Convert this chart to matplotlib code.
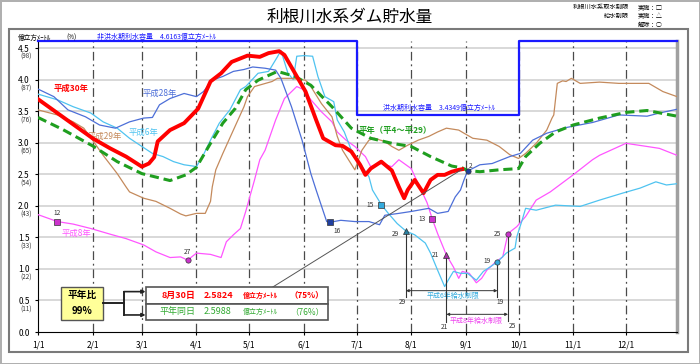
import numpy as np
import matplotlib
matplotlib.use('Agg')
import matplotlib.pyplot as plt
from matplotlib.patches import Rectangle

plt.rcParams['font.family'] = ['Noto Sans CJK JP', 'DejaVu Sans']

# x axis: day of year (1/1 = 0)
month_labels = ['1/1', '2/1', '3/1', '4/1', '5/1', '6/1', '7/1', '8/1', '9/1', '10/1', '11/1', '12/1']
month_days = [0, 31, 59, 90, 120, 151, 181, 212, 243, 273, 304, 334]

ytick_vals = [0.0, 0.5, 1.0, 1.5, 2.0, 2.5, 3.0, 3.5, 4.0, 4.5]
ytick_pct = ['', '(11)', '(22)', '(33)', '(43)', '(54)', '(65)', '(76)', '(87)', '(98)']

# 利水容量 (億m3)
cap_days = [0, 181, 181, 273, 273, 363]
cap_vals = [4.6163, 4.6163, 3.4349, 3.4349, 4.6163, 4.6163]

# 平成30年
h30_days = [0, 14, 24, 31, 41, 50, 59, 63, 66, 68, 75, 83, 91, 98, 104, 110, 119, 126, 131,
            137, 140, 146, 152, 158, 162, 169, 173, 178, 183, 186, 189, 195, 201, 205, 208,
            210, 214, 219, 223, 227, 231, 235, 239, 241]
h30_vals = [3.69, 3.41, 3.21, 3.07, 2.91, 2.78, 2.62, 2.67, 2.77, 3.02, 3.20, 3.31, 3.54, 3.97,
            4.10, 4.28, 4.38, 4.36, 4.42, 4.45, 4.39, 4.10, 3.81, 3.36, 3.07, 2.96, 2.95, 2.86,
            2.65, 2.49, 2.59, 2.70, 2.56, 2.30, 2.12, 2.25, 2.41, 2.20, 2.41, 2.49, 2.49, 2.54,
            2.57, 2.58]

# 平年 (平4～平29)
avg_days = [0, 14, 31, 45, 59, 75, 84, 90, 98, 105, 112, 118, 125, 136, 146, 155, 167, 178,
            189, 201, 212, 223, 235, 241, 244, 251, 262, 273, 277, 285, 294, 304, 319, 334,
            346, 363]
avg_vals = [3.40, 3.21, 2.95, 2.70, 2.51, 2.40, 2.49, 2.61, 2.99, 3.31, 3.54, 3.84, 3.99, 4.13,
            4.05, 3.91, 3.57, 3.23, 3.07, 2.99, 2.94, 2.78, 2.63, 2.60, 2.56, 2.54, 2.57, 2.59,
            2.78, 2.99, 3.17, 3.28, 3.39, 3.48, 3.51, 3.42]

# 平成28年
h28_days = [0, 9, 17, 27, 35, 44, 52, 60, 65, 69, 75, 83, 90, 94, 99, 105, 111, 117, 122,
            129, 135, 138, 144, 150, 155, 158, 164, 166, 172, 180, 188, 194, 197, 205, 212,
            222, 227, 233, 237, 240, 242, 244, 251, 258, 268, 274, 281, 289, 300, 315, 330,
            346, 353, 363]
h28_vals = [3.85, 3.73, 3.52, 3.41, 3.28, 3.23, 3.33, 3.39, 3.40, 3.60, 3.70, 3.78, 3.73, 3.81,
            3.99, 4.05, 4.13, 4.16, 4.20, 4.18, 4.15, 4.02, 3.57, 3.04, 2.51, 2.25, 1.75, 1.74,
            1.77, 1.75, 1.75, 1.70, 1.85, 1.88, 1.91, 1.96, 1.88, 1.91, 2.14, 2.25, 2.41, 2.55,
            2.65, 2.67, 2.78, 2.83, 3.04, 3.15, 3.24, 3.32, 3.44, 3.42, 3.47, 3.53]

# 平成29年
h29_days = [0, 11, 20, 26, 31, 37, 45, 50, 52, 60, 67, 75, 81, 84, 90, 95, 98, 99, 101, 105,
            111, 117, 119, 123, 133, 136, 144, 152, 155, 161, 167, 170, 173, 180, 184, 188,
            191, 197, 201, 205, 210, 216, 222, 227, 232, 239, 242, 247, 255, 262, 268, 273,
            277, 283, 289, 292, 293, 295, 298, 300, 303, 308, 319, 330, 347, 355, 363]
h29_vals = [3.52, 3.44, 3.33, 3.23, 3.04, 2.80, 2.51, 2.30, 2.22, 2.12, 2.07, 1.96, 1.87, 1.84,
            1.88, 1.88, 2.07, 2.30, 2.57, 2.83, 3.20, 3.57, 3.73, 3.89, 3.97, 4.02, 4.02, 3.99,
            3.89, 3.62, 3.41, 3.10, 2.88, 2.57, 2.88, 3.04, 3.07, 3.02, 2.94, 2.88, 2.96, 3.04,
            3.10, 3.17, 3.23, 3.20, 3.15, 3.07, 3.04, 2.94, 2.81, 2.75, 2.83, 2.99, 3.20, 3.39,
            3.44, 3.94, 3.98, 3.97, 4.02, 3.94, 3.96, 3.94, 3.94, 3.81, 3.73]

# 平成6年
h6_days = [0, 11, 20, 30, 37, 45, 52, 59, 65, 71, 77, 83, 88, 90, 94, 98, 103, 109, 115, 118,
           125, 131, 136, 138, 142, 145, 147, 151, 156, 159, 163, 168, 170, 174, 178, 183, 188,
           190, 195, 199, 204, 209, 214, 220, 223, 227, 231, 233, 236, 240, 244, 249, 253, 261,
           266, 271, 272, 275, 277, 283, 294, 308, 319, 332, 342, 351, 357, 363]
h6_vals = [3.77, 3.68, 3.57, 3.47, 3.33, 3.23, 3.07, 2.94, 2.83, 2.78, 2.70, 2.65, 2.63, 2.62,
           2.81, 3.04, 3.31, 3.52, 3.84, 3.89, 4.10, 4.13, 4.36, 4.46, 4.10, 4.00, 4.37, 4.38,
           4.37, 4.05, 3.73, 3.65, 3.36, 3.17, 2.88, 2.67, 2.46, 2.25, 2.02, 1.88, 1.72, 1.60,
           1.54, 1.41, 1.25, 0.98, 0.72, 0.82, 0.96, 0.93, 0.93, 0.82, 0.96, 1.11, 1.25, 1.33,
           1.51, 1.77, 1.96, 1.93, 2.01, 1.99, 2.09, 2.20, 2.28, 2.38, 2.33, 2.35]

# 平成8年
h8_days = [0, 11, 20, 30, 41, 50, 60, 67, 75, 81, 85, 90, 98, 104, 107, 111, 115, 118, 123,
           126, 129, 135, 140, 147, 151, 155, 161, 167, 170, 175, 180, 186, 189, 195, 201, 205,
           208, 212, 216, 221, 224, 227, 232, 236, 239, 241, 245, 249, 252, 255, 260, 264, 267,
           272, 277, 283, 291, 304, 315, 319, 334, 346, 353, 363]
h8_vals = [1.86, 1.75, 1.71, 1.64, 1.55, 1.48, 1.38, 1.27, 1.18, 1.19, 1.14, 1.25, 1.23, 1.18,
           1.43, 1.54, 1.64, 1.91, 2.41, 2.73, 2.88, 3.36, 3.70, 3.89, 3.84, 3.68, 3.49, 3.33,
           3.17, 3.04, 2.94, 2.78, 2.62, 2.67, 2.62, 2.73, 2.67, 2.59, 2.35, 2.05, 1.79, 1.56,
           1.22, 1.03, 0.85, 0.96, 0.93, 0.78, 0.85, 0.98, 1.11, 1.19, 1.56, 1.67, 1.83, 2.09,
           2.22, 2.49, 2.73, 2.80, 2.99, 2.94, 2.91, 2.80]

C_H30 = '#ff0000'
C_AVG = '#1f9e1f'
C_H28 = '#4d6fd8'
C_H29 = '#c48a5c'
C_H6 = '#4fc3f0'
C_H8 = '#ff55ff'

fig = plt.figure(figsize=(7, 3.64), dpi=100)
fig.patch.set_edgecolor('#b0b0b0')
fig.patch.set_linewidth(2)
fig.add_artist(Rectangle((9 / 700, 1 - 352 / 364), 679 / 700, 323 / 364,
                         transform=fig.transFigure, fill=False, ec='#7a7a7a', lw=1.5))

ax = fig.add_axes([38 / 700, 1 - 332 / 364, 639 / 700, 291.3 / 364])
ax.set_xlim(0, 363)
ax.set_ylim(0, 4.6163)

for v in ytick_vals[1:]:
    ax.axhline(v, color='#d6d6d6', lw=1.3, zorder=0)
for d in month_days[1:]:
    ax.axvline(d, color='#4a4a4a', lw=0.9, dashes=(7, 3, 1.5, 3), zorder=1)

ax.spines['top'].set_visible(False)
ax.spines['right'].set_color('#a0a0a0')
ax.spines['right'].set_linewidth(2.5)
ax.spines['left'].set_linewidth(0.8)
ax.spines['bottom'].set_linewidth(0.8)

ax.set_xticks(month_days)
ax.set_xticklabels(month_labels, fontsize=6)
ax.set_yticks(ytick_vals)
ax.set_yticklabels([f'{v:.1f}' for v in ytick_vals], fontsize=6)
ax.tick_params(axis='both', length=2, pad=4)
for v, p in zip(ytick_vals, ytick_pct):
    if p:
        ax.annotate(p, (0, v), xycoords=('axes fraction', 'data'), xytext=(-4.5, -6.5),
                    textcoords='offset points', ha='right', va='center', fontsize=4.5,
                    color='#333333')

# capacity line
ax.plot(cap_days, cap_vals, color='#1a1aff', lw=1.6, clip_on=False, zorder=3)
ax.text(228, 3.55, '洪水期利水容量　3.4349億立方ﾒｰﾄﾙ', color='#1a1aff', fontsize=5,
        ha='center', va='center')

# series
ax.plot(h8_days, h8_vals, color=C_H8, lw=0.9, zorder=4)
ax.plot(h6_days, h6_vals, color=C_H6, lw=0.9, zorder=4)
ax.plot(h29_days, h29_vals, color=C_H29, lw=0.9, zorder=4)
ax.plot(h28_days, h28_vals, color=C_H28, lw=0.9, zorder=4)
ax.plot(avg_days, avg_vals, color=C_AVG, lw=2.2, dashes=(3, 1.6), zorder=5)
ax.plot(h30_days, h30_vals, color=C_H30, lw=2.8, zorder=6, solid_joinstyle='round')

# series labels
ax.text(19, 3.86, '平成30年', color=C_H30, fontsize=6, fontweight='bold', ha='center', va='center')
ax.text(69, 3.78, '平成28年', color=C_H28, fontsize=6, ha='center', va='center')
ax.text(38, 3.10, '平成29年', color=C_H29, fontsize=6, ha='center', va='center')
ax.text(60, 3.16, '平成6年', color=C_H6, fontsize=6, ha='center', va='center')
ax.text(22, 1.56, '平成8年', color=C_H8, fontsize=6, ha='center', va='center')
ax.text(203, 3.19, '平年（平4～平29）', color=C_AVG, fontsize=6, fontweight='bold',
        ha='center', va='center')

# restriction markers: (series, day, marker, face, label offset)
events = [
    (h8_days, h8_vals, 11, 's', '#cc33cc', (0, 6), 'center'),
    (h8_days, h8_vals, 85, 'o', '#cc33cc', (0, 6), 'center'),
    (h28_days, h28_vals, 166, 's', '#1f3fa0', (2, -6), 'left'),
    (h6_days, h6_vals, 195, 's', '#33aadd', (-5, 0), 'right'),
    (h8_days, h8_vals, 224, 's', '#cc33cc', (-5, 0), 'right'),
    (h6_days, h6_vals, 209, '^', '#2a7fa0', (-5, -2), 'right'),
    (h8_days, h8_vals, 232, '^', '#aa33aa', (-5, 0), 'right'),
    (h6_days, h6_vals, 261, 'o', '#33aadd', (-5, 1), 'right'),
    (h8_days, h8_vals, 267, 'o', '#cc33cc', (-5, 0), 'right'),
    (h28_days, h28_vals, 244, 'o', '#1f3fa0', (1, 4), 'left'),
]
event_labels = ['12', '27', '16', '15', '13', '29', '21', '19', '25', '2']
for (dd, vv, day, mk, fc, off, ha), lab in zip(events, event_labels):
    y = np.interp(day, dd, vv)
    ax.plot(day, y, marker=mk, ms=3.8, mfc=fc, mec='#333333', mew=0.5, zorder=8)
    ax.annotate(lab, (day, y), xytext=off, textcoords='offset points', ha=ha,
                va='center', fontsize=4.8, color='#333333', zorder=8)

# 給水制限 spans
def span(d0, d1, y0, y1, ylev, lab0, lab1, lo0, lo1, txt, tx, ty, color):
    ax.plot([d0, d0], [y0, lo0[1] + 0.08], color='#333333', lw=0.8, zorder=7)
    ax.plot([d1, d1], [y1, lo1[1] + 0.08], color='#333333', lw=0.8, zorder=7)
    ax.annotate('', xy=(d0, ylev), xytext=(d1, ylev),
                arrowprops=dict(arrowstyle='<|-|>', color='#333333', lw=0.7,
                                mutation_scale=4, shrinkA=0, shrinkB=0), zorder=7)
    ax.text(lo0[0], lo0[1], lab0, fontsize=4.8, color='#333333', ha='center', va='center')
    ax.text(lo1[0], lo1[1], lab1, fontsize=4.8, color='#333333', ha='center', va='center')
    ax.text(tx, ty, txt, fontsize=5, color=color, ha='center', va='center')

span(209, 261, np.interp(209, h6_days, h6_vals), np.interp(261, h6_days, h6_vals), 0.655,
     '29', '19', (207, 0.48), (262.5, 0.48), '平成6年給水制限', 236, 0.575, '#33aadd')
span(232, 267, np.interp(232, h8_days, h8_vals), np.interp(267, h8_days, h8_vals), 0.28,
     '21', '25', (231, 0.08), (269.6, 0.095), '平成8年給水制限', 249, 0.17, '#ee44ee')

# leader line and info boxes
ax.plot([h30_days[-1], 133.5], [h30_vals[-1], 0.715], color='#555555', lw=0.7, zorder=7)
ax.add_patch(Rectangle((61.1, 0.45), 103.5, 0.265, fc='white', ec='#555555', lw=1.2, zorder=9))
ax.add_patch(Rectangle((61.1, 0.19), 103.5, 0.26, fc='white', ec='#555555', lw=1.2, zorder=9))
row1 = [('8月30日', 70.3, 6.5), ('2.5824', 94.1, 6.5), ('億立方ﾒｰﾄﾙ', 116.3, 5), ('（75%）', 143.1, 6)]
row2 = [('平年同日', 68.9, 6.5), ('2.5988', 94.3, 6.5), ('億立方ﾒｰﾄﾙ', 116.4, 5), ('（76%）', 143.1, 6)]
for s, x, fs in row1:
    ax.text(x, 0.585, s, color=C_H30, fontsize=fs, fontweight='bold', ha='left', va='center', zorder=10)
for s, x, fs in row2:
    ax.text(x, 0.32, s, color='#33aa33', fontsize=fs, ha='left', va='center', zorder=10)

ax.add_patch(Rectangle((12.9, 0.19), 24.1, 0.52, fc='#ffff99', ec='#555555', lw=1, zorder=9))
ax.text(25, 0.58, '平年比', fontsize=7, fontweight='bold', ha='center', va='center', zorder=10)
ax.text(25, 0.33, '99%', fontsize=7, fontweight='bold', ha='center', va='center', zorder=10)
ax.plot([37, 48.8], [0.455, 0.455], color='#222222', lw=1.4, zorder=9)
ax.plot([48.8, 48.8], [0.27, 0.64], color='#222222', lw=1.4, zorder=9)
for yy in (0.64, 0.27):
    ax.annotate('', xy=(61.1, yy), xytext=(48.8, yy),
                arrowprops=dict(arrowstyle='-|>', color='#222222', lw=1.2,
                                mutation_scale=5, shrinkA=0, shrinkB=0), zorder=9)

# header texts
fig.text(0.5, 1 - 17 / 364, '利根川水系ダム貯水量', fontsize=12, ha='center', va='center')
fig.text(18 / 700, 1 - 38 / 364, '億立方ﾒｰﾄﾙ', fontsize=4.8, va='center')
fig.text(66 / 700, 1 - 38 / 364, '(%)', fontsize=4.5, va='center')
fig.text(97 / 700, 1 - 37 / 364, '非洪水期利水容量　4.6163億立方ﾒｰﾄﾙ', fontsize=5,
         color='#1a1aff', va='center')
fig.text(629 / 700, 1 - 7 / 364, '利根川水系取水制限', fontsize=4.5, ha='right', va='center')
fig.text(629 / 700, 1 - 16 / 364, '給水制限', fontsize=4.5, ha='right', va='center')
fig.text(638 / 700, 1 - 7 / 364, '実施：□', fontsize=4.5, va='center')
fig.text(638 / 700, 1 - 16 / 364, '実施：△', fontsize=4.5, va='center')
fig.text(638 / 700, 1 - 25 / 364, '解除：○', fontsize=4.5, va='center')

fig.savefig('out.png', dpi=100)
